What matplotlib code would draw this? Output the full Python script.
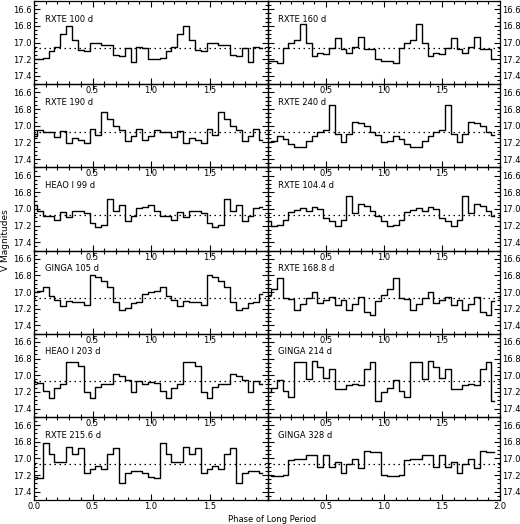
import numpy as np
import matplotlib.pyplot as plt
from matplotlib.ticker import MultipleLocator, FixedLocator

# panel labels, row by row (left, right)
names = ["RXTE 100 d", "RXTE 160 d",
         "RXTE 190 d", "RXTE 240 d",
         "HEAO I 99 d", "RXTE 104.4 d",
         "GINGA 105 d", "RXTE 168.8 d",
         "HEAO I 203 d", "GINGA 214 d",
         "RXTE 215.6 d", "GINGA 328 d"]

# folded V magnitudes, 20 phase bins (0.00 ... 0.95), one cycle each
rxte_100 = [17.20, 17.20, 17.18, 17.10, 17.05, 16.90, 16.80, 16.97, 17.09, 17.10,
            17.00, 17.00, 17.03, 17.03, 17.15, 17.16, 17.07, 17.23, 17.05, 17.06]
rxte_160 = [17.22, 17.22, 17.24, 17.07, 17.01, 16.97, 16.78, 17.00, 17.16, 17.13,
            17.14, 17.06, 16.95, 17.08, 17.12, 17.05, 16.93, 17.08, 17.08, 17.20]
rxte_190 = [17.12, 17.05, 17.07, 17.07, 17.14, 17.06, 17.21, 17.15, 17.17, 17.21,
            17.04, 17.11, 16.83, 16.92, 17.00, 17.05, 17.18, 17.12, 17.04, 17.17]
rxte_240 = [17.20, 17.18, 17.12, 17.16, 17.22, 17.26, 17.26, 17.18, 17.12, 17.07,
            17.05, 16.75, 17.10, 17.19, 17.10, 16.96, 16.97, 17.00, 17.08, 17.11]
heao_99 = [16.95, 17.03, 17.09, 17.08, 17.13, 17.04, 17.10, 17.03, 17.03, 17.05,
           17.17, 17.22, 17.19, 16.88, 17.02, 16.95, 17.15, 17.09, 16.99, 16.98]
rxte_104 = [17.15, 17.21, 17.19, 17.13, 17.04, 17.01, 16.99, 17.02, 16.98, 17.00,
            17.11, 17.14, 17.20, 17.13, 16.84, 17.05, 16.94, 16.97, 17.03, 17.09]
ginga_105 = [17.00, 16.99, 16.94, 17.05, 17.09, 17.17, 17.11, 17.12, 17.12, 17.16,
             16.79, 16.82, 16.87, 16.94, 17.12, 17.22, 17.19, 17.13, 17.12, 17.02]
rxte_169 = [17.03, 16.96, 16.83, 17.07, 17.08, 17.21, 17.14, 17.07, 17.00, 17.13,
            17.10, 17.06, 17.15, 17.09, 17.21, 17.14, 17.06, 17.24, 17.28, 17.11]
heao_203 = [17.08, 17.09, 17.19, 17.27, 17.15, 17.10, 16.84, 16.84, 16.89, 17.20,
            17.27, 17.14, 17.11, 17.11, 16.99, 17.01, 17.06, 17.20, 17.07, 17.10]
ginga_214 = [17.20, 17.15, 17.06, 17.19, 17.26, 16.84, 16.84, 17.04, 16.83, 16.90,
             17.03, 16.93, 17.16, 17.16, 17.12, 17.11, 17.12, 16.92, 16.84, 17.31]
rxte_216 = [17.22, 17.23, 16.81, 16.95, 17.04, 17.04, 16.86, 16.95, 16.87, 17.17,
            17.13, 17.09, 17.13, 16.95, 16.87, 17.29, 17.18, 17.15, 17.15, 17.18]
ginga_328 = [17.20, 17.21, 17.21, 17.20, 17.02, 17.01, 17.01, 16.96, 16.96, 17.10,
             16.96, 17.10, 17.04, 17.17, 17.07, 17.01, 17.12, 16.91, 16.92, 16.92]

series = [rxte_100, rxte_160, rxte_190, rxte_240, heao_99, rxte_104,
          ginga_105, rxte_169, heao_203, ginga_214, rxte_216, ginga_328]

mean_mag = 17.07
phase = np.arange(40) * 0.05   # two cycles

fig = plt.figure(figsize=(5.2, 5.24), dpi=100)
W, H = 520.0, 524.0
x_left, x_mid, x_right = 34 / W, 268 / W, 500 / W
y_top, y_bot = 1 - 1 / H, 1 - 500 / H
row_h = (y_top - y_bot) / 6

for i, (name, mags) in enumerate(zip(names, series)):
    row, col = divmod(i, 2)
    if col == 0:
        ax = fig.add_axes([x_left, y_top - (row + 1) * row_h, x_mid - x_left, row_h])
    else:
        ax = fig.add_axes([x_mid, y_top - (row + 1) * row_h, x_right - x_mid, row_h])
    ax.patch.set_visible(False)

    ax.step(phase, np.tile(mags, 2), where='mid', color='black', lw=1.0)
    ax.axhline(mean_mag, color='black', lw=0.9, ls=(0, (1.2, 2.8)))
    ax.text(0.045, 0.78, name, transform=ax.transAxes, fontsize=6,
            ha='left', va='center')

    ax.set_xlim(0, 2)
    ax.set_ylim(17.5, 16.5)
    ax.yaxis.set_major_locator(FixedLocator([16.6, 16.8, 17.0, 17.2, 17.4]))
    ax.yaxis.set_minor_locator(MultipleLocator(0.05))
    ax.yaxis.set_major_formatter(plt.FuncFormatter(lambda v, p: f"{v:.1f}"))
    ax.xaxis.set_minor_locator(MultipleLocator(0.1))
    if row == 5:
        ticks = [0.0, 0.5, 1.0, 1.5] if col == 0 else [0.5, 1.0, 1.5, 2.0]
    else:
        ticks = [0.5, 1.0, 1.5]
    ax.xaxis.set_major_locator(FixedLocator(ticks))
    ax.xaxis.set_major_formatter(plt.FuncFormatter(lambda v, p: f"{v:.1f}"))

    ax.tick_params(which='both', direction='in', top=True, bottom=True,
                   left=True, right=True, labelsize=6, width=0.8, pad=1.5)
    ax.tick_params(which='major', length=4)
    ax.tick_params(which='minor', length=2)
    if col == 1:
        ax.tick_params(labelleft=False, labelright=True)
    for s in ax.spines.values():
        s.set_linewidth(0.9)

fig.text((x_left + x_right) / 2 + 5 / W, 5 / H, "Phase of Long Period",
         ha='center', va='center', fontsize=6)
fig.text(6 / W, 1 - 240 / H, "V Magnitudes", rotation=90, ha='center',
         va='center', fontsize=6.5)

fig.savefig("out.png", dpi=100)
